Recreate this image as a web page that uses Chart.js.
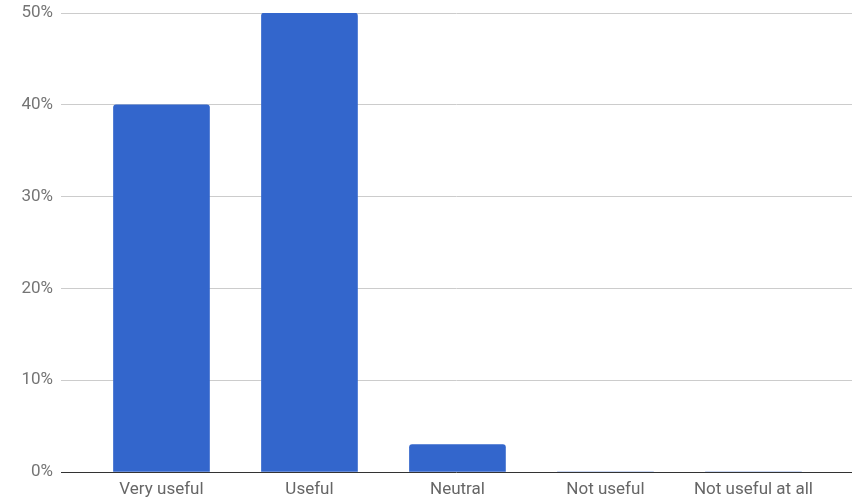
<!DOCTYPE html>
<html>
<head>
<meta charset="utf-8">
<script src="https://cdn.jsdelivr.net/npm/chart.js@4/dist/chart.umd.min.js"></script>
<style>
  html, body { margin: 0; padding: 0; background: #fff; }
  #wrap { width: 856px; height: 500px; }
</style>
</head>
<body>
<div id="wrap"><canvas id="MyChart"></canvas></div>
<script>
// answers and their share of responses (%)
const categories = ['Very useful', 'Useful', 'Neutral', 'Not useful', 'Not useful at all'];
const shares = [40, 50, 3, 0, 0];
const yTicks = [0, 10, 20, 30, 40, 50];

const ctx = document.getElementById('MyChart').getContext('2d');
let chart = new Chart(ctx, {
    type: 'bar',
    data: {
        datasets: [{
            label: 'Share',
            data: shares.map((v, i) => ({ x: i, y: v })),
            backgroundColor: '#3366cc',
            borderWidth: 0,
            borderRadius: { topLeft: 3, topRight: 3 },
            borderSkipped: 'bottom',
            barThickness: 96
        }]
    },
    options: {
        responsive: true,
        maintainAspectRatio: false,
        animation: false,
        layout: { padding: { top: 13, right: 4, left: 0, bottom: 0 } },
        plugins: { legend: { display: false }, tooltip: { enabled: false } },
        scales: {
            x: {
                type: 'linear',
                offset: false,
                min: -0.679,
                max: 4.666,
                grid: { display: false, drawTicks: false, offset: false },
                border: { display: false },
                afterBuildTicks: (s) => { s.ticks = categories.map((c, i) => ({ value: i })); },
                afterFit: (s) => { s.height = 28; s.paddingLeft = 0; s.paddingRight = 0; },
                ticks: {
                    autoSkip: false,
                    maxRotation: 0,
                    padding: 8,
                    color: '#666666',
                    font: { family: 'Roboto', size: 17 },
                    callback: (v) => categories[v]
                }
            },
            y: {
                min: 0,
                max: 50,
                afterBuildTicks: (s) => { s.ticks = yTicks.map(v => ({ value: v })); },
                afterFit: (s) => { s.width = 61; s.paddingTop = 0; s.paddingBottom = 0; },
                grid: {
                    drawTicks: false,
                    color: (c) => c.tick && c.tick.value === 0 ? '#333333' : '#cccccc',
                    lineWidth: 1
                },
                border: { display: false },
                ticks: {
                    padding: 8,
                    color: '#757575',
                    font: { family: 'Roboto', size: 17 },
                    callback: (v) => v + '%'
                }
            }
        }
    }
});
</script>
</body>
</html>
